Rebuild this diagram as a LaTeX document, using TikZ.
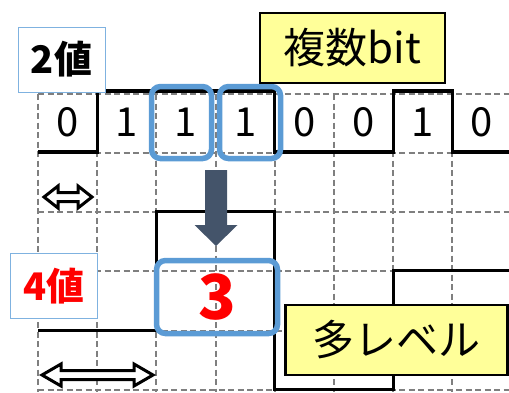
\documentclass[tikz,border=0pt]{standalone}
\usepackage{fontspec}
\setmainfont{Noto Sans CJK JP}
\definecolor{gridgray}{HTML}{7F7F7F}
\definecolor{hlblue}{HTML}{5B9BD5}
\definecolor{lblblue}{HTML}{7FB2E0}
\definecolor{noteyellow}{HTML}{FFFF99}
\definecolor{arrowslate}{HTML}{44546A}
\tikzset{
  gridline/.style={draw=gridgray, line width=2pt, dash pattern=on 6pt off 3.5pt},
  wave/.style={draw=black, line width=3.2pt, line join=miter},
  bitdigit/.style={inner sep=0pt, font=\fontsize{40}{40}\selectfont},
  hlbox/.style={draw=hlblue, line width=5.5pt, rounded corners=9pt},
  levellabel/.style={draw=lblblue, line width=1pt, fill=white, inner sep=0pt, minimum width=87pt, minimum height=65pt, font=\bfseries\fontsize{38}{38}\selectfont},
  note/.style={draw=black, line width=2.5pt, fill=noteyellow, inner sep=0pt, font=\fontsize{42}{42}\selectfont},
  dblarrow/.style={draw=black, line width=3pt, fill=white, line join=miter},
}
\begin{document}
\begin{tikzpicture}[x=1pt,y=-1pt]
\useasboundingbox (0,0) rectangle (509,392);
% grid
\foreach \gx in {38,97.2,156.4,215.6,274.8,334,393.2,452.4}
  \draw[gridline] (\gx,94) -- (\gx,392);
\foreach \gy in {94,153,212.2,271.4,330.6,389.8}
  \draw[gridline] (38,\gy) -- (509,\gy);
% 2-level waveform
\draw[wave] (38,152) -- (97.2,152) -- (97.2,91) -- (274.8,91) -- (274.8,152) -- (393.2,152) -- (393.2,91) -- (452.4,91) -- (452.4,152) -- (509,152);
% 4-level waveform
\draw[wave] (38,330.6) -- (156.4,330.6) -- (156.4,211.5) -- (274.8,211.5) -- (274.8,389.8) -- (393.2,389.8) -- (393.2,270.8) -- (509,270.8);
% bits
\node[bitdigit] (b1) at (67.6,122) {0};
\node[bitdigit] (b2) at (126.8,122) {1};
\node[bitdigit] (b3) at (186,122) {1};
\node[bitdigit] (b4) at (245.2,122) {1};
\node[bitdigit] (b5) at (304.4,122) {0};
\node[bitdigit] (b6) at (363.6,122) {0};
\node[bitdigit] (b7) at (422.8,122) {1};
\node[bitdigit] (b8) at (482,122) {0};
% highlight boxes
\draw[hlbox] (151.5,86.5) rectangle (211.5,158.5);
\draw[hlbox] (219.5,86.5) rectangle (280.5,158.5);
\node[hlbox, minimum width=121pt, minimum height=73pt, inner sep=0pt, text=red, font=\bfseries\fontsize{62}{62}\selectfont] (three) at (217,297) {3};
% conversion arrow
\fill[arrowslate] (205,170) -- (227,170) -- (227,225) -- (237.5,225) -- (216,246) -- (194.5,225) -- (205,225) -- cycle;
% labels
\node[levellabel] (two) at (61.5,59.5) {2値};
\node[levellabel, text=red] (four) at (54,286) {4値};
\node[note, minimum width=185pt, minimum height=70pt] (multibit) at (352.5,48) {複数bit};
\node[note, minimum width=222pt, minimum height=70pt] (multilevel) at (396.5,340) {多レベル};
% symbol width arrows
\draw[dblarrow] (44,197) -- (58,186) -- (58,192.5) -- (78,192.5) -- (78,186) -- (92,197) -- (78,208) -- (78,201.5) -- (58,201.5) -- (58,208) -- cycle;
\draw[dblarrow] (42,375) -- (61,364) -- (61,370.5) -- (134,370.5) -- (134,364) -- (153,375) -- (134,386) -- (134,379.5) -- (61,379.5) -- (61,386) -- cycle;
\end{tikzpicture}
\end{document}
